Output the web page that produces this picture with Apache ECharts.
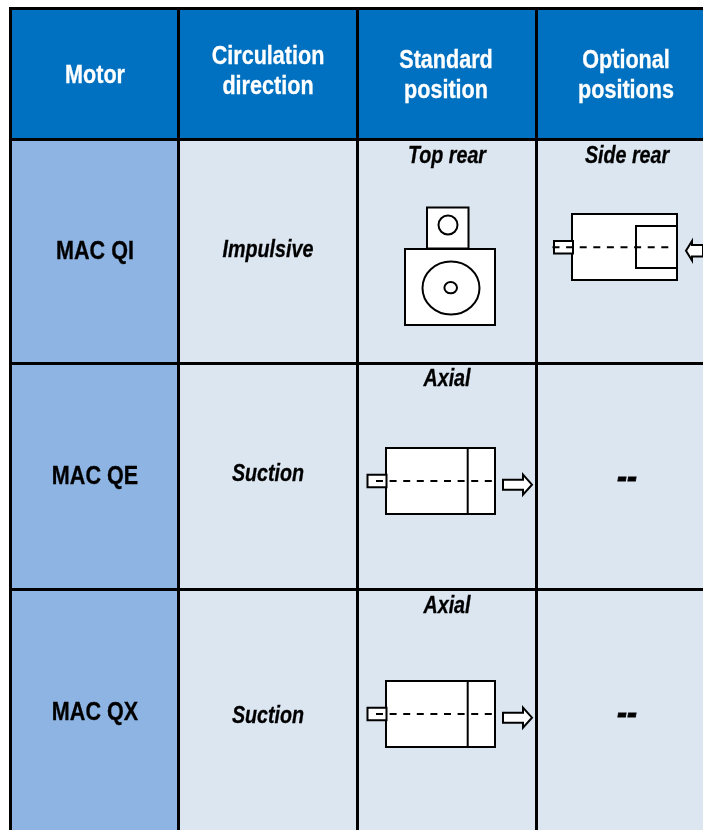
<!DOCTYPE html>
<html>
<head>
<meta charset="utf-8">
<style>html,body{margin:0;padding:0;background:#fff}#main{width:703px;height:830px}</style>
<script src="https://cdn.jsdelivr.net/npm/echarts@6/dist/echarts.min.js"></script>
</head>
<body>
<div id="main"></div>
<script>
// table content
var headers = ['Motor', 'Circulation\ndirection', 'Standard\nposition', 'Optional\npositions'];
var motors = ['MAC QI', 'MAC QE', 'MAC QX'];
var directions = ['Impulsive', 'Suction', 'Suction'];
var standardPositions = ['Top rear', 'Axial', 'Axial'];
var optionalPositions = ['Side rear', '--', '--'];

// cell extents, page pixels
var colSpans = [[12, 177], [180, 356], [359, 535], [538, 703]];
var rowSpans = [[10, 138], [141, 362], [365, 588], [591, 830]];

var HEAD = '#0070C0', SIDE = '#8EB4E3', BODY = '#DCE6F1';
var FONT = '"Liberation Sans",Arial,sans-serif';

var cellData = [];
rowSpans.forEach(function (r, ri) {
    colSpans.forEach(function (c, ci) {
        cellData.push([ci, ri]);
    });
});

var textData = [];
function addText(str, x, y, kind) { textData.push([x, y, str, kind]); }
addText(headers[0], 95, 75.5, 'head');
addText(headers[1], 268, 71.5, 'head');
addText(headers[2], 446, 75.5, 'head');
addText(headers[3], 626, 75.5, 'head');
var motorY = [251.5, 477, 713], dirY = [250, 474, 716], stdY = [156, 379, 606], optY = [156, 479, 715];
motors.forEach(function (m, i) {
    addText(m, 95, motorY[i], 'motor');
    addText(directions[i], 268, dirY[i], 'ital');
    addText(standardPositions[i], 447, stdY[i], 'ital');
    addText(optionalPositions[i], 627, optY[i], i === 0 ? 'ital' : 'dash');
});

function rect(x1, y1, x2, y2) { return {kind: 'rect', p: [x1, y1, x2, y2]}; }
function ell(cx, cy, rx, ry) { return {kind: 'ell', p: [cx, cy, rx, ry]}; }
function dash(x1, x2, y) { return {kind: 'dash', p: [x1, y, x2, y]}; }
function poly(pts) { return {kind: 'poly', p: pts}; }
function rightArrow(x, y) {
    return poly([[x, y - 5], [x + 20, y - 5], [x + 20, y - 10], [x + 29, y], [x + 20, y + 10], [x + 20, y + 5], [x, y + 5]]);
}
function axialMotor(top) {
    return [
        rect(386, top, 495, top + 66),
        rect(367.5, top + 26.7, 386.5, top + 39.3),
        {kind: 'line', p: [467.7, top, 467.7, top + 66]},
        dash(376, 495, top + 33),
        rightArrow(503, top + 36.7)
    ];
}
var shapes = [
    // top rear
    rect(427, 207.5, 468.5, 248.5),
    ell(448, 225, 9.5, 9.5),
    rect(405, 249, 495, 325),
    ell(451, 288, 28.5, 26.5),
    ell(450.7, 287.7, 6.3, 5.6),
    // side rear
    rect(572, 214, 677, 280),
    rect(636, 226, 677, 268),
    rect(554, 241, 573, 253.5),
    dash(552.5, 673, 247.3),
    poly([[703, 245], [692, 245], [692, 241], [686, 250.7], [692, 260.5], [692, 256.5], [703, 256.5]])
].concat(axialMotor(448), axialMotor(681));

var myChart = echarts.init(document.getElementById('main'), null, {renderer: 'canvas'});

function renderCell(params, api) {
    var c = colSpans[api.value(0)], r = rowSpans[api.value(1)];
    var a = api.coord([c[0], r[0]]), b = api.coord([c[1], r[1]]);
    var col = api.value(1) === 0 ? HEAD : (api.value(0) === 0 ? SIDE : BODY);
    return {type: 'rect', shape: {x: a[0], y: a[1], width: b[0] - a[0], height: b[1] - a[1]}, style: {fill: col}};
}

function renderText(params, api) {
    var p = api.coord([api.value(0), api.value(1)]);
    var kind = api.value(3);
    var st = {
        text: api.value(2), x: 0, y: 0, align: 'center', verticalAlign: 'middle',
        fontFamily: FONT, fontWeight: 'bold', fill: '#000', stroke: '#000', lineWidth: 0.3
    };
    var sx = 0.83;
    if (kind === 'head') { st.fontSize = 26; st.lineHeight = 30; st.fill = '#fff'; st.stroke = '#fff'; }
    if (kind === 'motor') { st.fontSize = 26; }
    if (kind === 'ital') { st.fontSize = 24; st.fontStyle = 'italic'; sx = 0.82; }
    if (kind === 'dash') { st.fontSize = 34; st.fontStyle = 'italic'; sx = 0.88; st.lineWidth = 1; }
    return {type: 'text', x: p[0], y: p[1], scaleX: sx, style: st};
}

function renderShape(params, api) {
    var s = shapes[params.dataIndex], p = s.p, a, b;
    var line = {stroke: '#000', lineWidth: 2, fill: '#fff'};
    if (s.kind === 'rect') {
        a = api.coord([p[0], p[1]]); b = api.coord([p[2], p[3]]);
        return {type: 'rect', shape: {x: a[0], y: a[1], width: b[0] - a[0], height: b[1] - a[1]}, style: line};
    }
    if (s.kind === 'ell') {
        a = api.coord([p[0], p[1]]);
        return {type: 'ellipse', shape: {cx: a[0], cy: a[1], rx: p[2], ry: p[3]}, style: line};
    }
    if (s.kind === 'poly') {
        return {type: 'polygon', shape: {points: p.map(function (q) { return api.coord(q); })}, style: line};
    }
    a = api.coord([p[0], p[1]]); b = api.coord([p[2], p[3]]);
    return {
        type: 'line',
        shape: {x1: a[0], y1: a[1], x2: b[0], y2: b[1]},
        style: {stroke: '#000', lineWidth: 2, lineDash: s.kind === 'dash' ? [7, 6.6] : null}
    };
}

var option = {
    animation: false,
    backgroundColor: '#fff',
    grid: {left: 0, right: 0, top: 0, bottom: 0},
    xAxis: {type: 'value', min: 0, max: 703, show: false},
    yAxis: {type: 'value', min: 0, max: 830, inverse: true, show: false},
    series: [
        // black backing shows through the gaps between cells as the table rules
        {
            type: 'custom', silent: true, clip: false,
            data: [[0]],
            renderItem: function (params, api) {
                var a = api.coord([9, 7]), b = api.coord([703, 830]);
                return {type: 'rect', shape: {x: a[0], y: a[1], width: b[0] - a[0], height: b[1] - a[1]}, style: {fill: '#000'}};
            }
        },
        {type: 'custom', silent: true, clip: false, data: cellData, renderItem: renderCell},
        {type: 'custom', silent: true, clip: false, data: shapes.map(function (s, i) { return [i]; }), renderItem: renderShape},
        {
            type: 'custom', silent: true, clip: false,
            encode: {x: 0, y: 1},
            dimensions: ['x', 'y', {name: 'label', type: 'ordinal'}, {name: 'kind', type: 'ordinal'}],
            data: textData, renderItem: renderText
        }
    ]
};
myChart.setOption(option);
</script>
</body>
</html>
